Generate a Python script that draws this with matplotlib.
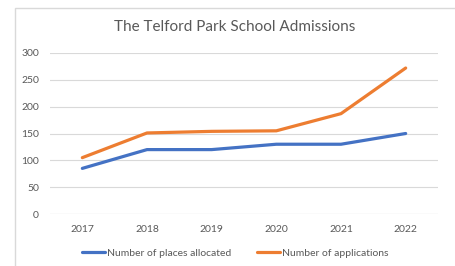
import matplotlib.pyplot as plt
from matplotlib.patches import Rectangle

years = ["2017", "2018", "2019", "2020", "2021", "2022"]
places = [85, 120, 120, 130, 130, 150]
applications = [105, 151, 154, 155, 187, 272]
yticks = [0, 50, 100, 150, 200, 250, 300]

plt.rcParams["font.family"] = ["Lato", "DejaVu Sans"]
grey = "#595959"

fig = plt.figure(figsize=(4.55, 2.66), dpi=100)
fig.patches.append(Rectangle((15 / 455, -0.1), 1.0, 1 - 8 / 266 + 0.1,
                             transform=fig.transFigure, facecolor="white",
                             edgecolor="#d9d9d9", linewidth=1, zorder=-10))
ax = fig.add_axes([50 / 455, 1 - 214 / 266, 388 / 455, 161 / 266])
ax.set_facecolor("none")

x = range(len(years))
ax.plot(x, places, color="#4472C4", lw=2.3, label="Number of places allocated",
        solid_capstyle="round")
ax.plot(x, applications, color="#ED7D31", lw=2.3, label="Number of applications",
        solid_capstyle="round")

ax.set_xlim(-0.5, len(years) - 0.5)
ax.set_ylim(0, 300)
ax.set_xticks(list(x))
ax.set_xticklabels(years)
ax.set_yticks(yticks)
ax.tick_params(length=0, colors=grey, labelsize=7.5, pad=8)
ax.grid(axis="y", color="#d9d9d9", lw=0.8)
ax.set_axisbelow(True)
for s in ax.spines.values():
    s.set_visible(False)
ax.axhline(0, color="#d9d9d9", lw=0.8, zorder=0)

fig.text(0.5 + 15 / 910, 1 - 27 / 266, "The Telford Park School Admissions",
         ha="center", va="center", fontsize=11, color=grey)

leg = fig.legend(loc="center", bbox_to_anchor=(0.5 + 15 / 910, 1 - 253 / 266),
                 ncol=2, frameon=False, fontsize=7.5, handlelength=2.2,
                 handletextpad=0.2, columnspacing=2.5)
for t in leg.get_texts():
    t.set_color(grey)

fig.savefig("out.png", dpi=100)
